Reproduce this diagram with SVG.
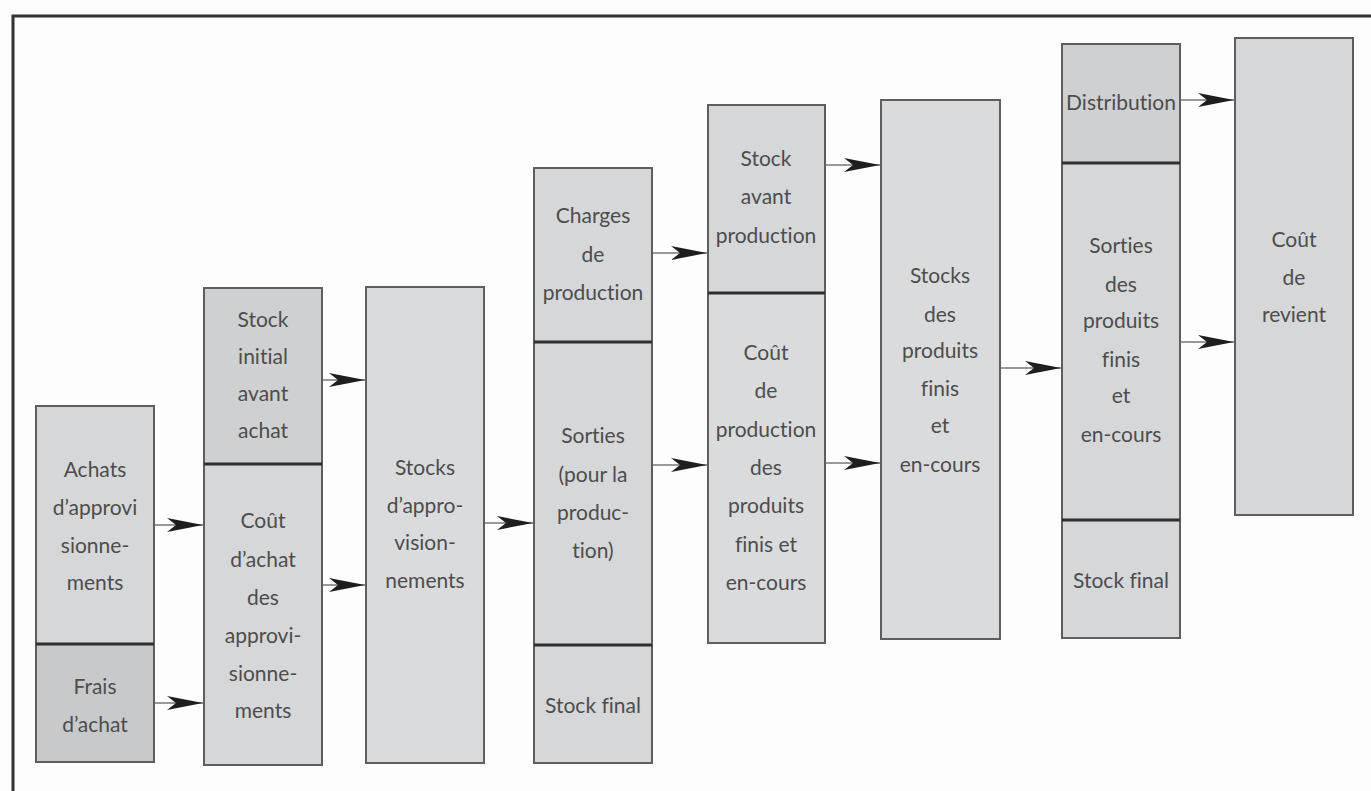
<svg xmlns="http://www.w3.org/2000/svg" width="1371" height="791" viewBox="0 0 1371 791">
<style>
.box{fill:#d5d7d9;stroke:#5e5e5e;stroke-width:2}
.dark{fill:#cfd0d1}
.darker{fill:#c8c9ca}
.light{fill:#dadbdc}
.div{stroke:#2f2f2f;stroke-width:3}
.t{font-family:Lato,"Liberation Sans",sans-serif;font-size:21px;fill:#4d4d4d;text-anchor:middle;font-variant-ligatures:none;font-feature-settings:"liga" 0}
.c{stroke:#777;stroke-width:1.5;fill:none;marker-end:url(#ah)}
.frame{stroke:#333;stroke-width:3;fill:none}
</style>
<defs>
<marker id="ah" markerUnits="userSpaceOnUse" markerWidth="40" markerHeight="18" refX="36" refY="8" orient="auto">
<path d="M0,1 L36,8 L0,15 L9,8 Z" fill="#1e1e1e"/>
</marker>
</defs>
<rect width="1371" height="791" fill="#fdfdfd"/>
<path class="frame" d="M13,791 L13,16 L1371,16"/>

<g id="achats">
<rect class="box" x="36" y="406" width="118" height="238"/>
<text class="t" x="95" y="477">Achats</text>
<text class="t" x="95" y="515">d’approvi</text>
<text class="t" x="95" y="553">sionne-</text>
<text class="t" x="95" y="590">ments</text>
</g>
<g id="frais">
<rect class="box darker" x="36" y="644" width="118" height="118"/>
<line class="div" x1="36" y1="644" x2="154" y2="644"/>
<text class="t" x="95" y="694">Frais</text>
<text class="t" x="95" y="732">d’achat</text>
</g>

<g id="stock-initial">
<rect class="box dark" x="204" y="288" width="118" height="176"/>
<text class="t" x="263" y="327">Stock</text>
<text class="t" x="263" y="364">initial</text>
<text class="t" x="263" y="401">avant</text>
<text class="t" x="263" y="438">achat</text>
</g>
<g id="cout-achat">
<rect class="box" x="204" y="464" width="118" height="301"/>
<line class="div" x1="204" y1="464" x2="322" y2="464"/>
<text class="t" x="263" y="528">Coût</text>
<text class="t" x="263" y="567">d’achat</text>
<text class="t" x="263" y="605">des</text>
<text class="t" x="263" y="643">approvi-</text>
<text class="t" x="263" y="681">sionne-</text>
<text class="t" x="263" y="718">ments</text>
</g>

<g id="stocks-appro">
<rect class="box light" x="366" y="287" width="118" height="476"/>
<text class="t" x="425" y="475">Stocks</text>
<text class="t" x="425" y="513">d’appro-</text>
<text class="t" x="425" y="550">vision-</text>
<text class="t" x="425" y="588">nements</text>
</g>

<g id="charges-production">
<rect class="box" x="534" y="168" width="118" height="174"/>
<text class="t" x="593" y="223">Charges</text>
<text class="t" x="593" y="262">de</text>
<text class="t" x="593" y="300">production</text>
</g>
<g id="sorties-production">
<rect class="box" x="534" y="342" width="118" height="303"/>
<line class="div" x1="534" y1="342" x2="652" y2="342"/>
<text class="t" x="593" y="443">Sorties</text>
<text class="t" x="593" y="482">(pour la</text>
<text class="t" x="593" y="520">produc-</text>
<text class="t" x="593" y="558">tion)</text>
</g>
<g id="stock-final-1">
<rect class="box" x="534" y="645" width="118" height="118"/>
<line class="div" x1="534" y1="645" x2="652" y2="645"/>
<text class="t" x="593" y="713">Stock final</text>
</g>

<g id="stock-avant-production">
<rect class="box" x="708" y="105" width="117" height="188"/>
<text class="t" x="766" y="166">Stock</text>
<text class="t" x="766" y="204">avant</text>
<text class="t" x="766" y="243">production</text>
</g>
<g id="cout-production">
<rect class="box light" x="708" y="293" width="117" height="350"/>
<line class="div" x1="708" y1="293" x2="825" y2="293"/>
<text class="t" x="766" y="360">Coût</text>
<text class="t" x="766" y="398">de</text>
<text class="t" x="766" y="437">production</text>
<text class="t" x="766" y="475">des</text>
<text class="t" x="766" y="513">produits</text>
<text class="t" x="766" y="552">finis et</text>
<text class="t" x="766" y="590">en-cours</text>
</g>

<g id="stocks-produits">
<rect class="box light" x="881" y="100" width="119" height="539"/>
<text class="t" x="940" y="283">Stocks</text>
<text class="t" x="940" y="322">des</text>
<text class="t" x="940" y="358">produits</text>
<text class="t" x="940" y="396">finis</text>
<text class="t" x="940" y="433">et</text>
<text class="t" x="940" y="472">en-cours</text>
</g>

<g id="distribution">
<rect class="box dark" x="1062" y="44" width="118" height="119"/>
<text class="t" x="1121" y="110">Distribution</text>
</g>
<g id="sorties-produits">
<rect class="box" x="1062" y="163" width="118" height="357"/>
<line class="div" x1="1062" y1="163" x2="1180" y2="163"/>
<text class="t" x="1121" y="253">Sorties</text>
<text class="t" x="1121" y="292">des</text>
<text class="t" x="1121" y="328">produits</text>
<text class="t" x="1121" y="367">finis</text>
<text class="t" x="1121" y="403">et</text>
<text class="t" x="1121" y="442">en-cours</text>
</g>
<g id="stock-final-2">
<rect class="box" x="1062" y="520" width="118" height="118"/>
<line class="div" x1="1062" y1="520" x2="1180" y2="520"/>
<text class="t" x="1121" y="588">Stock final</text>
</g>

<g id="cout-revient">
<rect class="box" x="1235" y="38" width="118" height="477"/>
<text class="t" x="1294" y="247">Coût</text>
<text class="t" x="1294" y="285">de</text>
<text class="t" x="1294" y="322">revient</text>
</g>

<g id="connectors">
<line class="c" x1="155" y1="525" x2="203" y2="525"/>
<line class="c" x1="155" y1="703" x2="203" y2="703"/>
<line class="c" x1="323" y1="380" x2="365" y2="380"/>
<line class="c" x1="323" y1="585" x2="365" y2="585"/>
<line class="c" x1="485" y1="523" x2="533" y2="523"/>
<line class="c" x1="653" y1="253" x2="707" y2="253"/>
<line class="c" x1="653" y1="465" x2="707" y2="465"/>
<line class="c" x1="826" y1="165" x2="880" y2="165"/>
<line class="c" x1="826" y1="463" x2="880" y2="463"/>
<line class="c" x1="1001" y1="368" x2="1061" y2="368"/>
<line class="c" x1="1181" y1="100" x2="1234" y2="100"/>
<line class="c" x1="1181" y1="342" x2="1234" y2="342"/>
</g>
</svg>
